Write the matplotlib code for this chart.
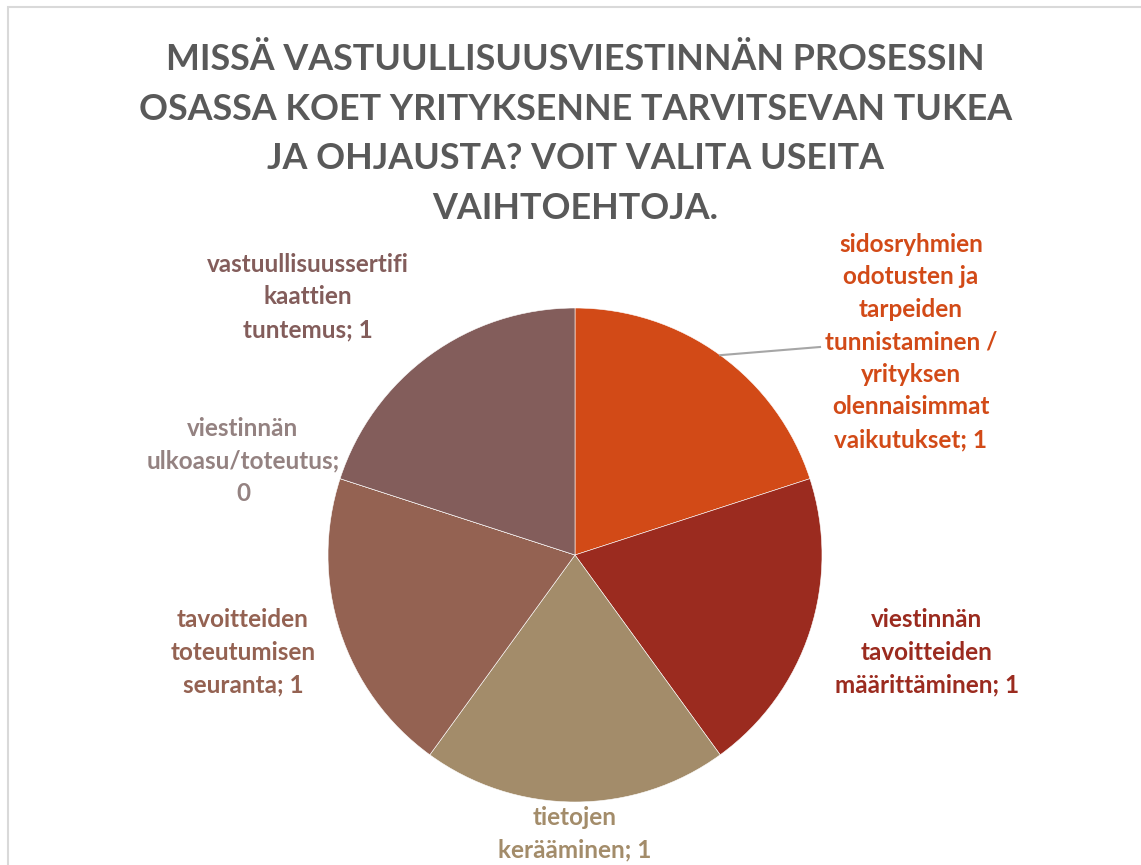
import numpy as np
import matplotlib.pyplot as plt
from matplotlib.patches import Rectangle

title = ("MISSÄ VASTUULLISUUSVIESTINNÄN PROSESSIN\n"
         "OSASSA KOET YRITYKSENNE TARVITSEVAN TUKEA\n"
         "JA OHJAUSTA? VOIT VALITA USEITA\n"
         "VAIHTOEHTOJA.")

categories = [
    "sidosryhmien\nodotusten ja\ntarpeiden\ntunnistaminen /\nyrityksen\nolennaisimmat\nvaikutukset",
    "viestinnän\ntavoitteiden\nmäärittäminen",
    "tietojen\nkerääminen",
    "tavoitteiden\ntoteutumisen\nseuranta",
    "viestinnän\nulkoasu/toteutus",
    "vastuullisuussertifi\nkaattien\ntuntemus",
]
values = [1, 1, 1, 1, 0, 1]
label_sep = ["; ", "; ", "; ", "; ", ";\n", "; "]

colors = ["#D24A17", "#9B2B1F", "#A38C6A", "#946252", "#948281", "#835D5B"]
# label centres in figure pixels (x, y from top)
label_pos = [(911, 342), (927, 652), (575, 834), (243, 652), (243, 461), (308, 297)]

W, H = 1141, 865
fig = plt.figure(figsize=(W / 100, H / 100), dpi=100)
ax = fig.add_axes([0, 0, 1, 1])

cx, cy, r = 575, H - 555, 247
wedges, _ = ax.pie(values, colors=colors, startangle=90, counterclock=False,
                   center=(cx, cy), radius=r, frame=True,
                   wedgeprops=dict(edgecolor="white", linewidth=0.4))
ax.set_xlim(0, W)
ax.set_ylim(0, H)
ax.set_aspect("equal")
ax.axis("off")

for cat, v, sep, col, (lx, ly) in zip(categories, values, label_sep, colors, label_pos):
    ax.text(lx, H - ly, cat + sep + str(v), color=col, fontsize=17.5,
            fontweight="bold", family="Lato", ha="center", va="center",
            linespacing=1.5)

# leader line for first slice
w0 = wedges[0]
mid = np.deg2rad((w0.theta1 + w0.theta2) / 2)
ax.plot([cx + r * np.cos(mid), 820], [cy + r * np.sin(mid), H - 347],
        color="#A6A6A6", lw=1.5)

fig.text(0.504, 1 - 134 / H, title, color="#595959", fontsize=25.8,
         fontweight="bold", family="Lato", ha="center", va="center",
         linespacing=1.62)

fig.patches.append(Rectangle((8 / W, -0.1), 1.2, 1 - 7 / H + 0.1,
                             transform=fig.transFigure, fill=False,
                             edgecolor="#D9D9D9", lw=1.5))

fig.savefig("out.png", dpi=100)
